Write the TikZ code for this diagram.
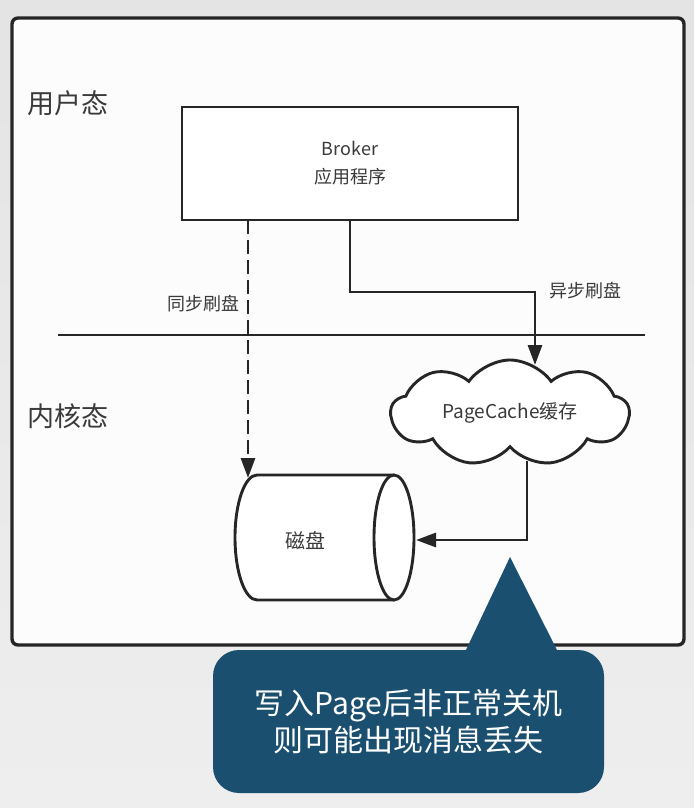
\documentclass[tikz,border=0pt]{standalone}
\usepackage{fontspec}
\setmainfont{Noto Sans CJK SC}
\usetikzlibrary{shapes.geometric,shapes.symbols,arrows.meta}
\definecolor{ink}{HTML}{262626}
\definecolor{txt}{HTML}{3A3A3A}
\definecolor{callout}{HTML}{1B4F70}
\tikzset{
  line/.style={draw=ink,line width=2.9pt},
  tip/.style={-{Triangle[length=20pt,width=14pt]}},
  lbl/.style={text=txt,font=\fontsize{18}{22}\selectfont,inner sep=0pt},
  big/.style={text=txt,font=\fontsize{27}{32}\selectfont,inner sep=0pt,anchor=west},
}
\begin{document}
\begin{tikzpicture}[x=1pt,y=-1pt]
\shade[top color={rgb,255:red,228;green,228;blue,228},bottom color={rgb,255:red,238;green,238;blue,238}] (0,0) rectangle (694,808);
\useasboundingbox (0,0) rectangle (694,808);
% outer frame
\draw[draw=ink,line width=3.4pt,fill={rgb,255:red,252;green,252;blue,252},rounded corners=6pt] (12,18) rectangle (684,645);
% labels
\node[big] (user) at (27,103) {用户态};
\node[big] (kernel) at (27,416) {内核态};
% horizontal separator
\coordinate (sepL) at (58,335);
\coordinate (sepR) at (645,335);
\draw[line] (sepL) -- (sepR);
% broker
\node[line,fill=white,minimum width=336pt,minimum height=113pt,inner sep=0pt,align=center,
  font=\fontsize{18}{30}\selectfont,text=txt] (broker) at (350,163.5) {Broker\\[-2pt]应用程序};
% disk (horizontal cylinder)
\draw[line,fill=white,line join=round] (394,475) -- (257,475)
  arc[start angle=270,end angle=90,x radius=22,y radius=62.5] -- (394,600);
\draw[line,fill=white] (394,537.5) ellipse[x radius=20,y radius=62.5];
\node[lbl,font=\fontsize{20}{24}\selectfont] (disk) at (305,541) {磁盘};
% cloud
\node[cloud,cloud puffs=9,cloud puff arc=110,aspect=2.5,line,fill=white,minimum width=238pt,minimum height=96pt,inner sep=0pt,
  font=\fontsize{19}{23}\selectfont,text=txt] (cache) at (510,413) {PageCache缓存};
% sync dashed arrow
\coordinate (syncS) at (248,220);
\coordinate (syncE) at (248,478);
\draw[line,tip,dash pattern=on 14pt off 6pt] (syncS) -- (syncE);
\node[lbl,anchor=east] (synclbl) at (240,304) {同步刷盘};
% async arrow
\coordinate (asyncS) at (350,220);
\coordinate (asyncE) at (535,365);
\draw[line,tip] (asyncS) |- (535,292) -- (asyncE);
\node[lbl,anchor=west] (asynclbl) at (549,291) {异步刷盘};
% cache -> disk
\coordinate (cacheB) at (527,461);
\coordinate (diskR) at (416,540);
\draw[line,tip] (cacheB) |- (diskR);
% callout
\fill[callout] (465,652) -- (510,557) -- (558,652) -- cycle;
\node[fill=callout,rounded corners=26pt,minimum width=391pt,minimum height=143pt,inner sep=0pt,align=center,
  text=white,font=\fontsize{30}{37}\selectfont] (note) at (408.5,721.5) {写入Page后非正常关机\\则可能出现消息丢失};
\end{tikzpicture}
\end{document}
